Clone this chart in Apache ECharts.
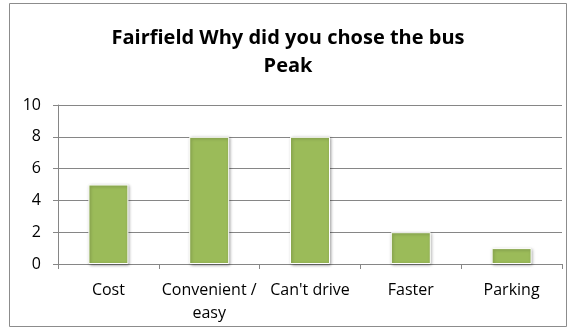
<!DOCTYPE html>
<html><head><meta charset="utf-8">
<script src="https://cdn.jsdelivr.net/npm/echarts@6/dist/echarts.min.js"></script>
<style>html,body{margin:0;padding:0;background:#fff}#c{width:576px;height:332px}</style>
</head><body><div id="c"></div>
<script>
const titleLines = ["Fairfield Why did you chose the bus", "Peak"];
const categories = ["Cost", "Convenient /\neasy", "Can't drive", "Faster", "Parking"];
const values = [5, 8, 8, 2, 1];
const yTicks = { min: 0, max: 10, interval: 2 };

const chart = echarts.init(document.getElementById('c'), null, {renderer: 'canvas'});
chart.setOption({
  animation: false,
  backgroundColor: '#fff',
  graphic: [{
    type: 'rect', shape: {x: 9.5, y: 3.5, width: 557, height: 323},
    style: {fill: 'none', stroke: '#8c8c8c', lineWidth: 1}, silent: true
  }],
  title: {
    text: titleLines.join('\n'), left: 'center', top: 19,
    textStyle: {fontFamily: 'Open Sans', fontWeight: 'bold', fontSize: 20, lineHeight: 28, color: '#000'}
  },
  grid: {left: 58, right: 14, top: 105, bottom: 68, containLabel: false},
  xAxis: {
    type: 'category', data: categories,
    axisLine: {lineStyle: {color: '#868686', width: 1}},
    axisTick: {show: true, length: 5, alignWithLabel: false, lineStyle: {color: '#868686'}},
    axisLabel: {color: '#000', fontFamily: 'Open Sans', fontSize: 16, margin: 15, lineHeight: 23, interval: 0}
  },
  yAxis: {
    type: 'value', min: yTicks.min, max: yTicks.max, interval: yTicks.interval,
    axisLine: {show: true, lineStyle: {color: '#868686', width: 1}},
    axisTick: {show: true, length: 5, lineStyle: {color: '#868686'}},
    splitLine: {lineStyle: {color: '#868686', width: 1}},
    axisLabel: {color: '#000', fontFamily: 'Open Sans', fontSize: 16, margin: 17}
  },
  series: [{
    type: 'bar', data: values, barWidth: 40,
    itemStyle: {color: '#9BBB59', borderColor: '#fff', borderWidth: 1,
      shadowColor: 'rgba(0,0,0,0.35)', shadowBlur: 3, shadowOffsetX: 1, shadowOffsetY: 1}
  }]
});
</script></body></html>
